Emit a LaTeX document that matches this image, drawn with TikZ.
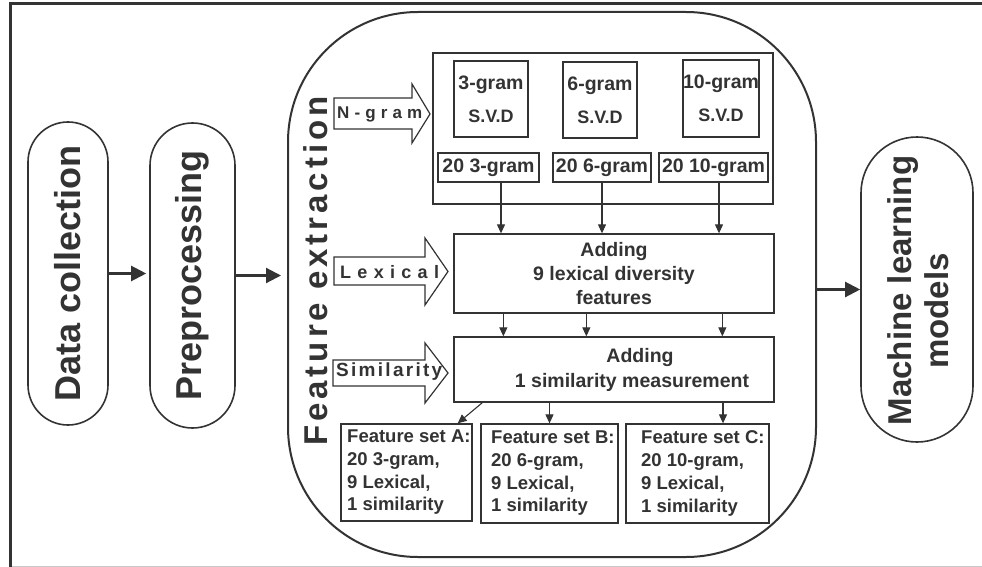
\documentclass[tikz,border=0pt]{standalone}
\usepackage{fontspec}
\setmainfont{Liberation Sans}
\usetikzlibrary{arrows.meta}
\definecolor{ink}{HTML}{333333}
\definecolor{rulegray}{HTML}{C8C8C8}

\begin{document}
\begin{tikzpicture}[x=1pt,y=-1pt,
  txt/.style={text=ink, inner sep=0pt},
  pill/.style={draw=ink, line width=1.6pt, rectangle, rotate=90, inner sep=0pt, text=ink,
    font=\fontsize{36}{40}\selectfont\bfseries},
  box/.style={draw=ink, line width=1.3pt, rectangle, inner sep=0pt, text=ink, align=center},
  svdbox/.style={box, minimum width=74pt, minimum height=76pt, font=\fontsize{19.5}{33}\selectfont\bfseries},
  gbox/.style={box, minimum height=29pt, font=\fontsize{19.5}{22}\selectfont\bfseries},
  setbox/.style={box, minimum height=97pt},
  settext/.style={txt, anchor=west, align=left, font=\fontsize{18.5}{22.7}\selectfont\bfseries},
  flow/.style={draw=ink, line width=2.2pt, -{Triangle[length=15pt,width=15pt]}},
  link/.style={draw=ink, line width=1.1pt, -{Triangle[length=9pt,width=8pt]}},
  blockarrow/.style={draw=ink, line width=1.2pt, fill=white, line join=miter},
]
\useasboundingbox (0,0) rectangle (982,567);
\fill[white] (0,0) rectangle (982,567);

% outer frame
\draw[ink, line width=3pt] (10.5,567) -- (10.5,3.5) -- (982,3.5);
\draw[rulegray, line width=1pt] (12,566) -- (982,566);

% pipeline stages
\node[pill, rounded corners=40pt, minimum width=303pt, minimum height=80pt] (dc) at (68,273.5) {Data collection};
\node[pill, rounded corners=42.5pt, minimum width=305pt, minimum height=85pt] (pp) at (192.5,275.5) {Preprocessing};
\node[draw=ink, line width=2pt, rounded corners=130pt, minimum width=528pt, minimum height=545pt, inner sep=0pt] (fe) at (552,284.5) {};
\node[pill, rounded corners=56pt, minimum width=305pt, minimum height=112pt] (ml) at (917,289.5) {};
\node[txt, rotate=90, font=\fontsize{33}{36}\selectfont\bfseries] (mlA) at (903,290.5) {Machine learning};
\node[txt, rotate=90, font=\fontsize{33}{36}\selectfont\bfseries] (mlB) at (937,311) {models};

\node[txt, rotate=90, font=\fontsize{33}{36}\selectfont\bfseries\addfontfeature{LetterSpace=12}] (fetitle) at (316,271) {Feature extraction};

\draw[flow, shorten >=3pt] (dc.south) -- (dc.south -| pp.north);
\draw[flow, shorten >=6pt] (pp.south) -- (pp.south -| fe.west);
\draw[flow] (ml.north -| fe.east) -- (ml.north);

% n-gram block
\node[box, minimum width=340pt, minimum height=151pt] (ngset) at (603,128.5) {};
\node[svdbox] (s3) at (491,99) {3-gram\\{\fontsize{18}{33}\selectfont\bfseries S.V.D}};
\node[svdbox] (s6) at (600,100) {6-gram\\{\fontsize{18}{33}\selectfont\bfseries S.V.D}};
\node[svdbox, minimum height=77pt] (s10) at (721,98.5) {10-gram\\{\fontsize{18}{33}\selectfont\bfseries S.V.D}};
\node[gbox, minimum width=101pt] (g3) at (488.5,167.5) {20 3-gram};
\node[gbox, minimum width=98pt] (g6) at (602,167.5) {20 6-gram};
\node[gbox, minimum width=109pt] (g10) at (713.5,167.5) {20 10-gram};

% adding steps
\node[box, minimum width=320pt, minimum height=79pt, font=\fontsize{19.5}{24}\selectfont\bfseries] (a1) at (614,273.5) {Adding\\9 lexical diversity\\features};
\node[box, minimum width=320pt, minimum height=65pt] (a2) at (614,369.5) {};
\node[txt, font=\fontsize{19.5}{24}\selectfont\bfseries] (a2t) at (640,357) {Adding};
\node[txt, font=\fontsize{19.5}{24}\selectfont\bfseries] (a2m) at (632,382) {1 similarity measurement};

% feature sets
\node[setbox, minimum width=131pt] (fa) at (406.5,472.5) {};
\node[setbox, minimum width=137pt, minimum height=99pt] (fb) at (549.5,473.5) {};
\node[setbox, minimum width=143pt, minimum height=99pt] (fc) at (697.5,473.5) {};
\node[settext] (fat) at (347,472.5) {Feature set A:\\20 3-gram,\\9 Lexical,\\1 similarity};
\node[settext] (fbt) at (491,473.5) {Feature set B:\\20 6-gram,\\9 Lexical,\\1 similarity};
\node[settext] (fct) at (641,473.5) {Feature set C:\\20 10-gram,\\9 Lexical,\\1 similarity};

% input block arrows
\draw[blockarrow] (334,98) -- (412,98) -- (412,84) -- (430,114) -- (412,143) -- (412,129) -- (334,129) -- cycle;
\node[txt, anchor=west, font=\fontsize{17}{17}\selectfont\bfseries\addfontfeature{LetterSpace=30}] (ngl) at (337,114) {N-gram};
\draw[blockarrow] (334,257) -- (425,257) -- (425,238) -- (448,271.5) -- (425,305) -- (425,285) -- (334,285) -- cycle;
\node[txt, anchor=west, font=\fontsize{18}{18}\selectfont\bfseries\addfontfeature{LetterSpace=35}] (lxl) at (340,272) {Lexical};
\draw[blockarrow] (333,360) -- (425,360) -- (425,343) -- (448,373) -- (425,403) -- (425,386) -- (333,386) -- cycle;
\node[txt, anchor=west, font=\fontsize{19}{19}\selectfont\bfseries\addfontfeature{LetterSpace=12}] (sml) at (336,372) {Similarity};

% connectors
\coordinate (g3out) at ([xshift=12.5pt]g3.south);
\coordinate (g10out) at ([xshift=5.5pt]g10.south);
\draw[link] (g3out) -- (g3out |- a1.north);
\draw[link] (g6.south) -- (g6.south |- a1.north);
\draw[link] (g10out) -- (g10out |- a1.north);

\coordinate (l1) at ([xshift=50pt]a1.south west);
\coordinate (l2) at ([xshift=133pt]a1.south west);
\coordinate (l3) at ([xshift=269pt]a1.south west);
\draw[link] (l1) -- (l1 |- a2.north);
\draw[link] (l2) -- (l2 |- a2.north);
\draw[link] (l3) -- (l3 |- a2.north);

\coordinate (d1) at ([xshift=29pt]a2.south west);
\coordinate (d1e) at ([xshift=-15pt]fa.north east);
\coordinate (d3) at ([xshift=25.5pt]fc.north);
\draw[link] (d1) -- (d1e);
\draw[link] (fb.north |- a2.south) -- (fb.north);
\draw[link] (d3 |- a2.south) -- (d3);
\end{tikzpicture}
\end{document}
